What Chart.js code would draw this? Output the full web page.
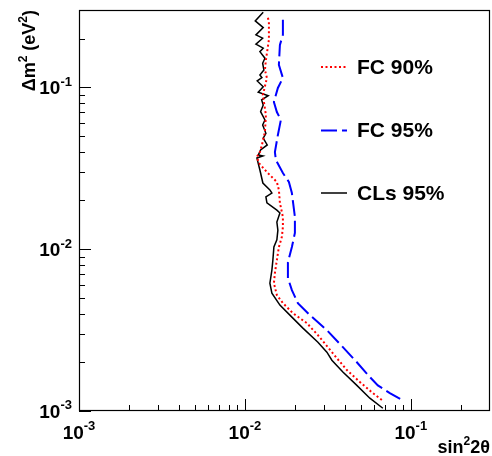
<!DOCTYPE html>
<html>
<head>
<meta charset="utf-8">
<script src="https://cdn.jsdelivr.net/npm/chart.js@4.4.0/dist/chart.umd.min.js"></script>
<style>
  html,body{margin:0;padding:0;background:#fff;}
  canvas{display:block;}
</style>
</head>
<body>
<canvas id="exclusion" width="492" height="456"></canvas>
<script>
/* ---------- DATA ---------- */
// CLs 95% contour (sin^2 2theta, dm^2)
const clsX = [0.01289,0.01154,0.01289,0.01165,0.01279,0.01165,0.01289,0.01231,0.01320,0.01279,
  0.01301,0.01231,0.01266,0.01186,0.01289,0.01203,0.01382,0.01261,0.01289,0.01243,
  0.01320,0.01279,0.01338,0.01289,0.01363,0.01243,0.01203,
  0.01283,0.01181,0.01231,0.01283,0.01414,0.01454,0.01338,0.01357,0.01558,0.01625,
  0.01558,0.01580,0.01558,0.01495,0.01474,0.01454,0.01414,0.01454,0.01625,0.01867,
  0.02236,0.02754,0.03119,0.03343,0.03894,0.04728,0.05662,0.06781];
const clsY = [0.2909,0.2570,0.2336,0.2106,0.2009,0.1845,0.1742,0.1660,0.1511,0.1407,
  0.1279,0.1191,0.1147,0.1094,0.1008,0.0931,0.0887,0.0835,0.0777,0.0707,
  0.0628,0.0585,0.0519,0.0484,0.0440,0.0410,0.0381,
  0.0376,0.0365,0.0308,0.0256,0.0232,0.0222,0.0210,0.0193,0.0174,0.0167,
  0.0147,0.0131,0.0114,0.0103,0.00855,0.00742,0.00616,0.00534,0.00451,0.00391,
  0.00325,0.00266,0.00231,0.00206,0.00174,0.00144,0.00120,0.00104];

// Feldman-Cousins 90%
const fc90X = [0.01376,0.01395,0.01395,0.01338,0.01320,0.01357,0.01283,0.01338,0.01320,0.01266,
  0.01231,0.01181,0.01214,0.01357,0.01558,0.01602,0.01625,0.01694,0.01694,0.01670,
  0.01602,0.01558,0.01516,0.01495,0.01558,0.01694,0.01946,0.02363,0.02754,0.03162,
  0.03583,0.04117,0.04930,0.05904,0.06687];
const fc90Y = [0.2683,0.2534,0.1961,0.1475,0.1279,0.1141,0.0896,0.0674,0.0529,0.0440,
  0.0398,0.0371,0.0340,0.0299,0.0260,0.0232,0.0193,0.0158,0.0137,0.0119,
  0.0103,0.00855,0.00711,0.00616,0.00520,0.00464,0.00402,0.00349,0.00294,0.00248,
  0.00212,0.00179,0.00151,0.00129,0.00117];

// Feldman-Cousins 95%
const fc95X = [0.01694,0.01694,0.01625,0.01602,0.01694,0.01580,0.01495,0.01558,0.01647,0.01580,
  0.01516,0.01537,0.01694,0.01841,0.01919,0.02001,0.02001,0.01919,0.01816,0.01816,
  0.01919,0.02085,0.02464,0.03119,0.03894,0.04728,0.05662,0.06327,0.07471,0.08829];
const fc95Y = [0.2607,0.2106,0.1826,0.1374,0.1141,0.0990,0.0811,0.0703,0.0628,0.0507,
  0.0398,0.0355,0.0295,0.0260,0.0222,0.0158,0.0126,0.0103,0.00831,0.00662,
  0.00558,0.00464,0.00391,0.00316,0.00248,0.00200,0.00162,0.00144,0.00129,0.00117];

const xDecades = [-3,-2,-1];
const yDecades = [-3,-2,-1];
const legendLabels = ["FC 90%","FC 95%","CLs 95%"];

const FONT = '"Liberation Sans", Arial, Helvetica, sans-serif';

/* ---------- HELPERS ---------- */
const toPoints = (xs, ys) => xs.map((v,i)=>({x:v, y:ys[i]}));

// draws text runs with superscripts
function drawRich(ctx, parts, x, base, align, size){
  const supSize = Math.round(size*0.66);
  let total = 0;
  parts.forEach(p=>{
    ctx.font = `bold ${p.sup?supSize:size}px ${FONT}`;
    p.w = ctx.measureText(p.t).width;
    total += p.w;
  });
  let cx = align==="right" ? x-total : align==="center" ? x-total/2 : x;
  ctx.textAlign = "left";
  ctx.textBaseline = "alphabetic";
  parts.forEach(p=>{
    ctx.font = `bold ${p.sup?supSize:size}px ${FONT}`;
    ctx.fillText(p.t, cx, p.sup ? base - size*0.45 : base);
    cx += p.w;
  });
}

/* ---------- FRAME, TICKS, LABELS, LEGEND ---------- */
const rootFrame = {
  id: "rootFrame",
  afterDatasetsDraw(chart){
    const {ctx, chartArea:a, scales:{x, y}} = chart;
    ctx.save();
    ctx.strokeStyle = "#000";
    ctx.fillStyle = "#000";
    ctx.lineWidth = 1.2;
    ctx.strokeRect(a.left+0.5, a.top+0.5, a.right-a.left-1, a.bottom-a.top-1);

    // log ticks, drawn inward
    ctx.lineWidth = 1;
    ctx.beginPath();
    xDecades.forEach(e=>{
      for(let m=1;m<=9;m++){
        const v = m*Math.pow(10,e);
        if(v > x.max) break;
        const px = Math.round(x.getPixelForValue(v))+0.5;
        ctx.moveTo(px, a.bottom);
        ctx.lineTo(px, a.bottom-(m===1?12:6));
      }
    });
    yDecades.forEach(e=>{
      for(let m=1;m<=9;m++){
        const v = m*Math.pow(10,e);
        if(v > y.max) break;
        const py = Math.round(y.getPixelForValue(v))+0.5;
        ctx.moveTo(a.left, py);
        ctx.lineTo(a.left+(m===1?12:6), py);
      }
    });
    ctx.stroke();

    // tick labels
    xDecades.forEach(e=>{
      drawRich(ctx, [{t:"10"},{t:String(e),sup:true}], x.getPixelForValue(Math.pow(10,e)), 439, "center", 19);
    });
    yDecades.forEach(e=>{
      drawRich(ctx, [{t:"10"},{t:String(e),sup:true}], 72, y.getPixelForValue(Math.pow(10,e))+7, "right", 19);
    });

    // axis titles
    drawRich(ctx, [{t:"sin"},{t:"2",sup:true},{t:"2\u03B8"}], 490, 453, "right", 18);
    ctx.save();
    ctx.translate(35, 10);
    ctx.rotate(-Math.PI/2);
    drawRich(ctx, [{t:"\u0394m"},{t:"2",sup:true},{t:" (eV"},{t:"2",sup:true},{t:")"}], 0, 0, "right", 18);
    ctx.restore();

    // legend
    const rowY = [67, 130.5, 193];
    chart.data.datasets.forEach((ds,i)=>{
      ctx.save();
      ctx.strokeStyle = ds.borderColor;
      ctx.lineWidth = ds.borderWidth;
      ctx.setLineDash(ds.borderDash || []);
      ctx.beginPath();
      ctx.moveTo(321, rowY[i]);
      ctx.lineTo(347, rowY[i]);
      ctx.stroke();
      ctx.restore();
      ctx.font = `bold 21px ${FONT}`;
      ctx.textAlign = "left";
      ctx.textBaseline = "middle";
      ctx.fillText(ds.label, 357, rowY[i]+1);
    });
    ctx.restore();
  }
};

/* ---------- CHART ---------- */
const lineDefaults = {showLine:true, pointRadius:0, pointHoverRadius:0, tension:0, fill:false};

new Chart(document.getElementById("exclusion").getContext("2d"), {
  type: "scatter",
  data: {
    datasets: [
      {...lineDefaults, label:legendLabels[0], data:toPoints(fc90X, fc90Y),
        borderColor:"#ff0000", borderWidth:2, borderDash:[2,2.5]},
      {...lineDefaults, label:legendLabels[1], data:toPoints(fc95X, fc95Y),
        borderColor:"#0000ff", borderWidth:2, borderDash:[16,5]},
      {...lineDefaults, label:legendLabels[2], data:toPoints(clsX, clsY),
        borderColor:"#000000", borderWidth:1.5}
    ]
  },
  options: {
    responsive: false,
    animation: false,
    events: [],
    layout: {padding:{left:79, top:10, right:2, bottom:45}},
    plugins: {legend:{display:false}, tooltip:{enabled:false}},
    scales: {
      x: {type:"logarithmic", min:0.001, max:0.3, display:false},
      y: {type:"logarithmic", min:0.001, max:0.3, display:false}
    }
  },
  plugins: [rootFrame]
});
</script>
</body>
</html>
